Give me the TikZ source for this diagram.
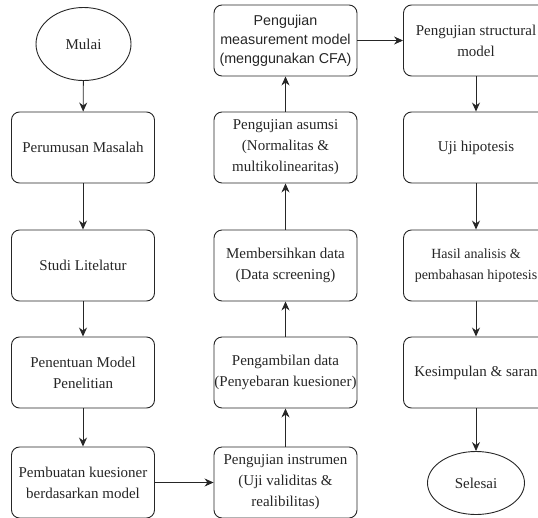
\documentclass[tikz,border=0pt]{standalone}
\usepackage{fontspec}
\setmainfont{Liberation Serif}
\newfontfamily\arialfont{Liberation Sans}
\usetikzlibrary{shapes.geometric,arrows.meta}
\tikzstyle{flowbox} = [draw=black!85, line width=0.9pt, rectangle,
    rounded corners=8pt, minimum width=143pt, minimum height=71pt,
    inner xsep=0pt, align=center, text=black!85, font=\fontsize{15}{21}\selectfont]
\tikzstyle{ujung} = [draw=black!85, line width=0.9pt, ellipse, inner sep=0pt,
    text=black!85, font=\fontsize{15}{21}\selectfont]
\tikzstyle{panah} = [draw=black!85, line width=0.9pt, -{Stealth[length=9pt,width=8pt]}]

\begin{document}
\begin{tikzpicture}[x=1pt, y=-1pt]
\clip (0,0) rectangle (538,517);
\node [ujung, minimum width=95pt, minimum height=73pt] (mulai) at (83.5,44) {Mulai};
\node [flowbox] (rumusan) at (83,147.5) {Perumusan Masalah};
\node [flowbox] (studi) at (83,265.5) {Studi Litelatur};
\node [flowbox] (penentuan) at (83,372.5) {Penentuan Model\\Penelitian};
\node [flowbox] (kuesioner) at (83,482.5) {Pembuatan kuesioner\\berdasarkan model};

\node [flowbox] (instrumen) at (285.5,482.5) {Pengujian instrumen\\(Uji validitas \&\\realibilitas)};
\node [flowbox] (ambil) at (285.5,372.5) {Pengambilan data\\(Penyebaran kuesioner)};
\node [flowbox] (bersih) at (285.5,265.5) {Membersihkan data\\(Data screening)};
\node [flowbox] (asumsi) at (285.5,147.5) {Pengujian asumsi\\(Normalitas \&\\multikolinearitas)};
\node [flowbox, font=\arialfont\fontsize{14.3}{19}\selectfont] (measure) at (285.5,40.5)
    {Pengujian\\measurement model\\(menggunakan CFA)};

\node [flowbox, minimum width=145pt] (struktural) at (476,40.5) {Pengujian structural\\model};
\node [flowbox, minimum width=145pt] (hipotesis) at (476,147.5) {Uji hipotesis};
\node [flowbox, minimum width=145pt, font=\fontsize{14}{21}\selectfont] (hasil) at (476,265.5)
    {Hasil analisis \&\\pembahasan hipotesis};
\node [flowbox, minimum width=145pt] (simpulan) at (476,372.5) {Kesimpulan \& saran};
\node [ujung, minimum width=97pt, minimum height=63pt] (selesai) at (476,483) {Selesai};

\draw [panah] (mulai) -- (rumusan);
\draw [panah] (rumusan) -- (studi);
\draw [panah] (studi) -- (penentuan);
\draw [panah] (penentuan) -- (kuesioner);
\draw [panah] (kuesioner) -- (instrumen);
\draw [panah] (instrumen) -- (ambil);
\draw [panah] (ambil) -- (bersih);
\draw [panah] (bersih) -- (asumsi);
\draw [panah] (asumsi) -- (measure);
\draw [panah] (measure) -- (struktural);
\draw [panah] (struktural) -- (hipotesis);
\draw [panah] (hipotesis) -- (hasil);
\draw [panah] (hasil) -- (simpulan);
\draw [panah] (simpulan) -- (selesai);
\end{tikzpicture}
\end{document}
